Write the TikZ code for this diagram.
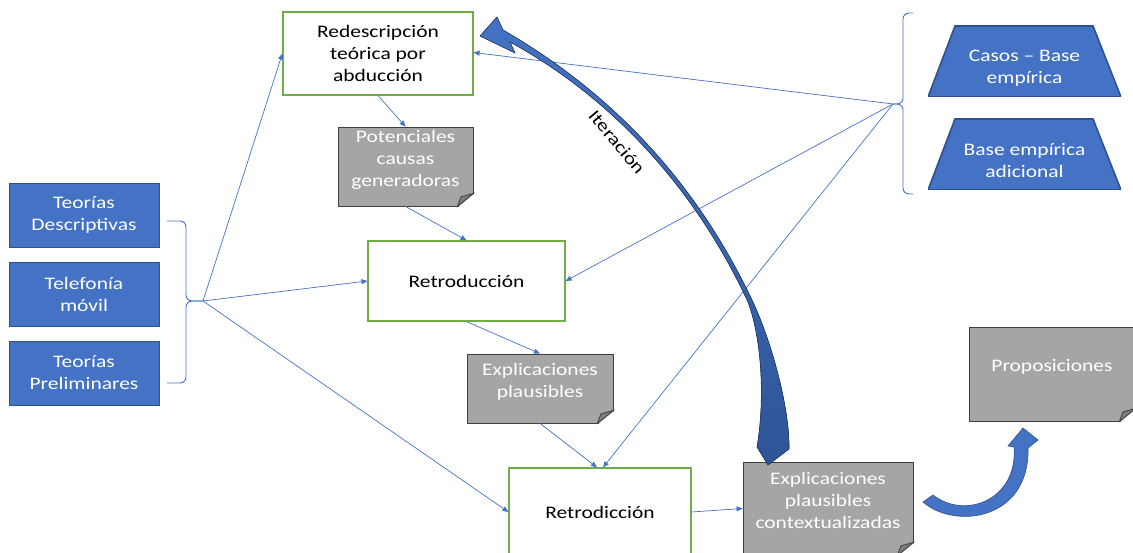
\documentclass[tikz,border=0pt]{standalone}
\usepackage{fontspec}
\setmainfont{Carlito}[FakeStretch=1.22]
\usetikzlibrary{arrows.meta, calc}

\definecolor{boxblue}{HTML}{4472C4}
\definecolor{boxblueedge}{HTML}{2F528F}
\definecolor{stepgreen}{HTML}{70AD47}
\definecolor{notegray}{HTML}{A5A5A5}
\definecolor{noteedge}{HTML}{404040}
\definecolor{foldgray}{HTML}{7F7F7F}
\definecolor{iterblue}{HTML}{2F5597}
\definecolor{iterdark}{HTML}{1F3864}

% folded corner of a grey note
\newcommand{\dogear}[1]{%
  \fill[white] ($(#1.south east)+(1.5,1.5)$) -- ($(#1.south east)+(1.5,-13)$) -- ($(#1.south east)+(-16,1.5)$) -- cycle;
  \filldraw[fill=foldgray, draw=noteedge, line width=0.8pt] ($(#1.south east)+(0,-13)$) -- ($(#1.south east)+(-16,0)$) -- ($(#1.south east)+(-12.5,-9.5)$) -- cycle;
}
% pushes the text of a trapezoid a little down
\newcommand{\lowstrut}{\rule{0pt}{24pt}}

\begin{document}
\begin{tikzpicture}[x=1pt, y=-1pt,
    font=\fontsize{17.6}{22}\selectfont,
    stepbox/.style={draw=stepgreen, line width=1.2pt, fill=white, text=black, align=center, inner sep=0pt},
    source/.style={draw=boxblueedge, line width=0.8pt, fill=boxblue, text=white, align=center,
        minimum width=150pt, minimum height=64pt, inner sep=0pt},
    note/.style={draw=noteedge, line width=0.8pt, fill=notegray, text=white, align=center, inner sep=0pt,
        execute at end node={\rule[-17pt]{0pt}{17pt}}},
    evidence/.style={text=white, align=center, minimum width=193pt, minimum height=71pt, inner sep=0pt,
        path picture={\filldraw[fill=boxblue, draw=boxblueedge, line width=1.6pt]
            (path picture bounding box.south west) -- ($(path picture bounding box.north west)+(27,0)$)
            -- ($(path picture bounding box.north east)+(-28,0)$) -- (path picture bounding box.south east) -- cycle;}},
    link/.style={draw=boxblue, line width=0.7pt, -{Triangle[length=6pt,width=5pt]}},
    brace/.style={draw=boxblue, line width=0.9pt, rounded corners=6pt}
]
    \useasboundingbox (0,0) rectangle (1133,553);

    % Steps of the method
    \node[stepbox, minimum width=190pt, minimum height=83pt] (redesc) at (378,53.5) {Redescripción\\teórica por\\abducción};
    \node[stepbox, minimum width=197pt, minimum height=80pt] (retroduc) at (466.5,281) {Retroducción};
    \node[stepbox, minimum width=182pt, minimum height=88pt] (retrodic) at (600,512) {Retrodicción};

    % Grey notes
    \node[note, minimum width=135pt, minimum height=79pt] (causas) at (405.5,166.5) {Potenciales\\causas\\generadoras};
    \node[note, minimum width=146pt, minimum height=69pt] (explic) at (540,388.5) {Explicaciones\\plausibles};
    \node[note, minimum width=170pt, minimum height=93pt] (context) at (828,508.5) {Explicaciones\\plausibles\\contextualizadas};
    \node[note, minimum width=166pt, minimum height=94pt] (propos) at (1052,374) {Proposiciones};
    \dogear{causas}
    \dogear{explic}
    \dogear{context}
    \dogear{propos}

    % Sources on the left
    \node[source] (teodesc) at (84,215) {Teorías\\Descriptivas};
    \node[source] (movil) at (84,294) {Telefonía\\móvil};
    \node[source] (teoprel) at (84,373) {Teorías\\Preliminares};

    % Empirical base on the right
    \node[evidence] (casos) at (1024.5,61.5) {\lowstrut Casos -- Base\\empírica};
    \node[evidence] (adicional) at (1024.5,154.5) {\lowstrut Base empírica\\adicional};

    % Braces
    \coordinate (lb) at (203,301);
    \coordinate (rb) at (893,104);
    \draw[brace] (167,221) -- (186,221) -- (186,301) -- (lb);
    \draw[brace] (lb) -- (186,301) -- (186,383) -- (167,383);
    \draw[brace] (913,13) -- (903,13) -- (903,104) -- (rb);
    \draw[brace] (rb) -- (903,104) -- (903,194) -- (913,194);

    % Connectors
    \draw[link] (lb) -- (redesc.west);
    \draw[link] (lb) -- (retroduc.west);
    \draw[link] (lb) -- (retrodic.west);
    \draw[link] (rb) -- ([yshift=1pt]redesc.east);
    \draw[link] (rb) -- (retroduc.east);
    \draw[link] (rb) -- ([xshift=3pt]retrodic.north);
    \draw[link] (redesc.south) -- (causas.north);
    \draw[link] (causas.south) -- (retroduc.north);
    \draw[link] (retroduc.south) -- (explic.north);
    \draw[link] (explic.south) -- ([xshift=-3pt]retrodic.north);
    \draw[link] (retrodic.east) -- (context.west);

    % Iteration arrow
    \fill[top color=boxblue, middle color=iterdark, bottom color=iterblue, draw=iterdark, line width=0.6pt]
        (768,465) -- (757,447) .. controls (765,400) and (762,340) .. (748,302)
        .. controls (695,188) and (612,98) .. (510,42) -- (515,53) -- (480,36) -- (497,17) -- (503,30)
        .. controls (614,94) and (697,184) .. (752,300)
        .. controls (772,342) and (790,410) .. (789,449) -- cycle;
    \node[rotate=-50] (iter) at (617,142) {Iteración};

    % Arrow to the propositions
    \filldraw[fill=boxblue, draw=boxblueedge, line width=0.6pt]
        (923,502) .. controls (955,530) and (1030,520) .. (1028,448) -- (1038,440) -- (1023,428)
        -- (1008,446) -- (1014,447) .. controls (1018,500) and (965,520) .. (933,495) -- cycle;
\end{tikzpicture}
\end{document}
